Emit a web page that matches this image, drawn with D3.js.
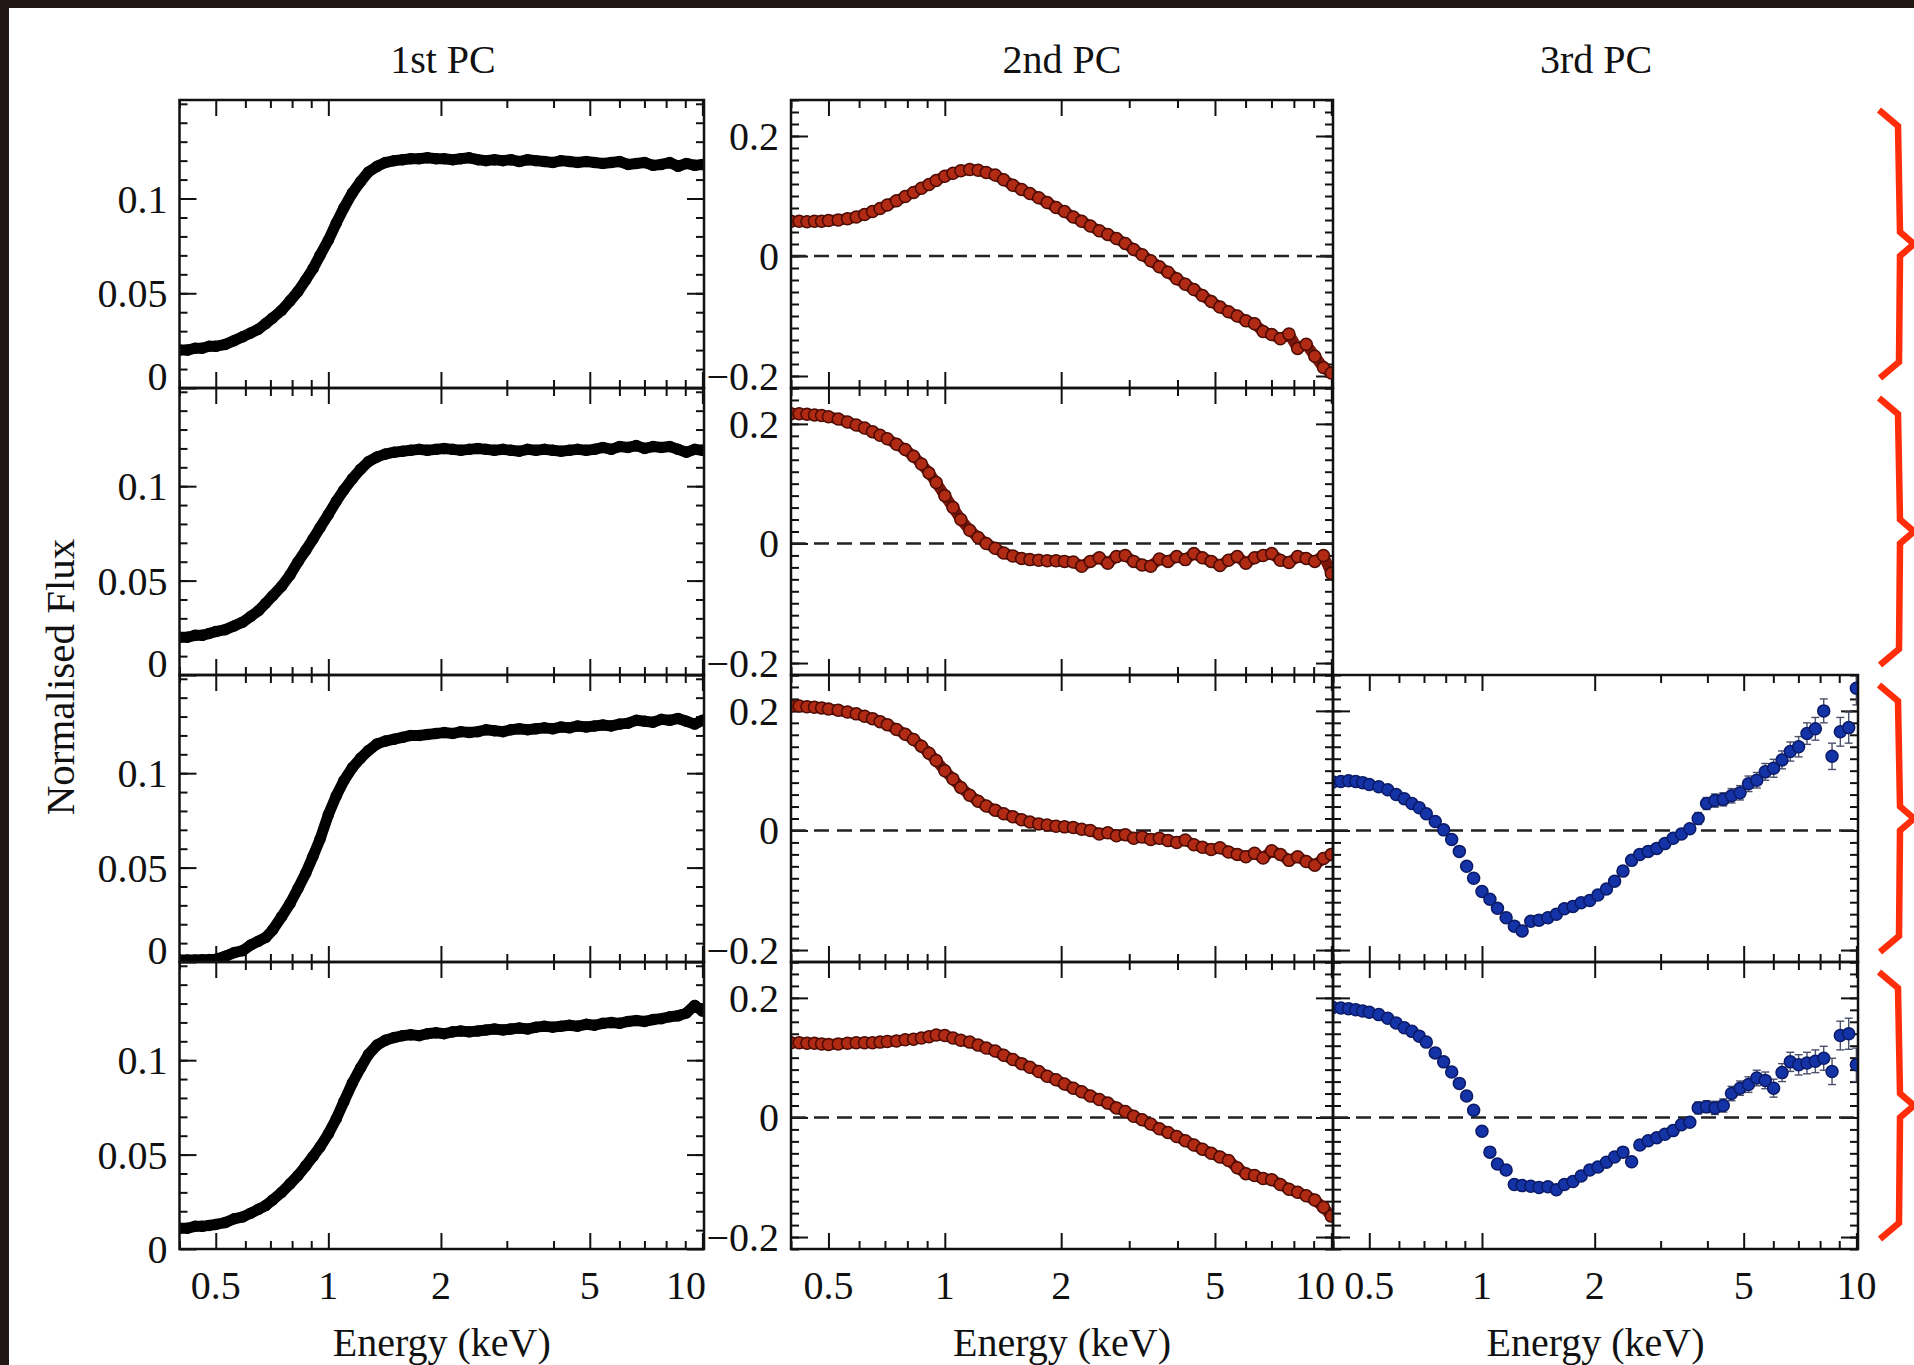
<!DOCTYPE html>
<html>
<head>
<meta charset="utf-8">
<script src="https://cdn.jsdelivr.net/npm/d3@7"></script>
<style>
  html, body { margin: 0; padding: 0; background: #211815; }
  svg { display: block; }
  text { font-family: "Liberation Serif", "Times New Roman", serif; fill: #111; }
</style>
</head>
<body>
<svg id="chart" width="1914" height="1365"></svg>
<script>
// energy grid (keV) shared by all panels
const energy = [0.40,0.42,0.44,0.46,0.48,0.50,0.53,0.56,0.59,0.62,
  0.65,0.68,0.71,0.75,0.79,0.83,0.87,0.91,0.95,1.00,
  1.05,1.10,1.16,1.22,1.28,1.35,1.42,1.50,1.58,1.66,
  1.75,1.84,1.94,2.04,2.15,2.26,2.38,2.51,2.64,2.78,
  2.93,3.08,3.24,3.41,3.59,3.78,3.98,4.19,4.41,4.64,
  4.89,5.15,5.42,5.71,6.01,6.33,6.66,7.01,7.38,7.77,
  8.18,8.61,9.06,9.54,10.0];

// 1st PC, one row per observation
const pc1Row1 = [0.020,0.020,0.021,0.021,0.022,0.022,0.023,0.025,0.027,0.029,
  0.031,0.034,0.037,0.041,0.046,0.051,0.057,0.063,0.070,0.078,
  0.087,0.095,0.103,0.109,0.114,0.117,0.119,0.120,0.1205,0.121,
  0.121,0.1215,0.121,0.121,0.1205,0.121,0.1215,0.1205,0.120,0.1205,
  0.120,0.1205,0.1195,0.1205,0.120,0.1195,0.119,0.120,0.1195,0.119,
  0.1195,0.119,0.1185,0.119,0.1195,0.118,0.1185,0.119,0.1175,0.118,
  0.119,0.117,0.1185,0.1175,0.118];
const pc1Row2 = [0.020,0.020,0.021,0.021,0.022,0.023,0.024,0.026,0.028,0.031,
  0.034,0.038,0.042,0.047,0.053,0.060,0.066,0.072,0.078,0.085,
  0.092,0.098,0.104,0.109,0.113,0.1155,0.117,0.118,0.1185,0.119,
  0.1195,0.119,0.1195,0.120,0.1195,0.119,0.1195,0.120,0.1195,0.119,
  0.1195,0.119,0.1185,0.1195,0.119,0.1195,0.119,0.1185,0.119,0.1195,
  0.119,0.1195,0.1205,0.1195,0.121,0.1205,0.1215,0.120,0.121,0.1205,
  0.121,0.1195,0.118,0.1195,0.119];
const pc1Row3 = [0.001,0.001,0.001,0.0012,0.0013,0.0015,0.003,0.005,0.006,0.009,
  0.011,0.013,0.017,0.024,0.031,0.039,0.047,0.056,0.065,0.078,
  0.088,0.096,0.103,0.108,0.112,0.1155,0.117,0.118,0.119,0.120,
  0.120,0.1205,0.121,0.1215,0.121,0.122,0.1215,0.122,0.123,0.1225,
  0.122,0.123,0.1235,0.123,0.1235,0.124,0.1235,0.1245,0.124,0.125,
  0.1245,0.125,0.1255,0.125,0.126,0.1265,0.128,0.1275,0.127,0.1285,
  0.128,0.129,0.1275,0.126,0.128];
const pc1Row4 = [0.011,0.011,0.012,0.012,0.0125,0.013,0.014,0.016,0.017,0.019,
  0.021,0.023,0.026,0.030,0.0345,0.039,0.044,0.049,0.054,0.061,
  0.069,0.078,0.088,0.096,0.103,0.108,0.1105,0.112,0.113,0.1135,
  0.113,0.114,0.1145,0.114,0.115,0.1155,0.115,0.1155,0.116,0.1165,
  0.116,0.1165,0.117,0.1165,0.1175,0.118,0.1175,0.118,0.1185,0.118,
  0.119,0.1185,0.1195,0.120,0.1195,0.1205,0.121,0.1205,0.1215,0.122,
  0.123,0.1235,0.125,0.129,0.126];

// 2nd PC
const pc2Row1 = [0.058,0.058,0.057,0.058,0.058,0.059,0.060,0.062,0.065,0.069,
  0.074,0.079,0.085,0.092,0.099,0.106,0.113,0.119,0.126,0.133,
  0.138,0.142,0.144,0.143,0.139,0.135,0.127,0.118,0.111,0.104,
  0.097,0.089,0.081,0.074,0.065,0.058,0.050,0.042,0.036,0.029,
  0.021,0.011,0.002,-0.008,-0.018,-0.027,-0.038,-0.047,-0.056,-0.066,
  -0.076,-0.085,-0.093,-0.100,-0.108,-0.113,-0.126,-0.131,-0.138,-0.130,
  -0.154,-0.147,-0.167,-0.186,-0.195];
const pc2Row2 = [0.217,0.217,0.216,0.215,0.214,0.212,0.208,0.203,0.198,0.193,
  0.187,0.181,0.175,0.166,0.157,0.146,0.133,0.118,0.102,0.080,
  0.060,0.040,0.022,0.010,0.000,-0.008,-0.016,-0.021,-0.025,-0.027,
  -0.028,-0.029,-0.029,-0.030,-0.031,-0.038,-0.030,-0.024,-0.033,-0.022,
  -0.020,-0.030,-0.036,-0.038,-0.026,-0.030,-0.022,-0.027,-0.017,-0.024,
  -0.030,-0.037,-0.028,-0.022,-0.033,-0.024,-0.020,-0.017,-0.028,-0.032,
  -0.022,-0.025,-0.030,-0.020,-0.050];
const pc2Row3 = [0.208,0.208,0.207,0.206,0.205,0.203,0.201,0.198,0.195,0.191,
  0.187,0.182,0.177,0.169,0.161,0.152,0.141,0.129,0.117,0.100,
  0.086,0.072,0.059,0.049,0.041,0.034,0.028,0.023,0.018,0.014,
  0.011,0.009,0.007,0.006,0.005,0.002,0.000,-0.006,-0.004,-0.009,
  -0.007,-0.013,-0.011,-0.015,-0.013,-0.017,-0.020,-0.016,-0.024,-0.028,
  -0.032,-0.029,-0.036,-0.040,-0.044,-0.038,-0.046,-0.034,-0.040,-0.050,
  -0.044,-0.052,-0.058,-0.047,-0.040];
const pc2Row4 = [0.125,0.125,0.124,0.124,0.123,0.122,0.123,0.124,0.125,0.125,
  0.125,0.126,0.127,0.128,0.130,0.131,0.133,0.135,0.138,0.137,
  0.133,0.129,0.126,0.121,0.116,0.111,0.104,0.097,0.090,0.084,
  0.077,0.069,0.063,0.056,0.049,0.043,0.036,0.030,0.024,0.016,
  0.010,0.002,-0.004,-0.011,-0.019,-0.025,-0.032,-0.039,-0.046,-0.053,
  -0.060,-0.066,-0.072,-0.084,-0.094,-0.097,-0.102,-0.104,-0.112,-0.120,
  -0.125,-0.131,-0.138,-0.150,-0.165];

// 3rd PC (only the last two observations)
const pc3Row3 = [0.081,0.082,0.083,0.082,0.080,0.077,0.073,0.068,0.060,0.053,
  0.045,0.038,0.028,0.015,0.001,-0.015,-0.035,-0.060,-0.080,-0.102,
  -0.115,-0.130,-0.146,-0.160,-0.168,-0.152,-0.150,-0.146,-0.140,-0.131,
  -0.127,-0.121,-0.117,-0.108,-0.098,-0.085,-0.068,-0.050,-0.040,-0.035,
  -0.030,-0.022,-0.013,-0.006,0.003,0.020,0.045,0.050,0.052,0.058,
  0.063,0.078,0.084,0.098,0.104,0.118,0.132,0.140,0.162,0.170,
  0.200,0.124,0.165,0.172,0.238];
const pc3Row4 = [0.184,0.183,0.182,0.180,0.178,0.176,0.172,0.166,0.158,0.150,
  0.144,0.136,0.126,0.108,0.093,0.076,0.057,0.036,0.012,-0.023,
  -0.058,-0.078,-0.088,-0.112,-0.114,-0.115,-0.117,-0.116,-0.121,-0.112,
  -0.107,-0.098,-0.088,-0.083,-0.075,-0.066,-0.058,-0.074,-0.046,-0.039,
  -0.034,-0.028,-0.022,-0.012,-0.008,0.016,0.018,0.016,0.020,0.040,
  0.049,0.055,0.066,0.062,0.049,0.075,0.093,0.088,0.091,0.094,
  0.099,0.077,0.137,0.140,0.088];
const pc3Err = [0.002,0.002,0.002,0.002,0.002,0.002,0.002,0.002,0.002,0.002,
  0.002,0.002,0.002,0.002,0.002,0.003,0.003,0.003,0.003,0.003,
  0.003,0.003,0.003,0.003,0.003,0.003,0.003,0.003,0.004,0.004,
  0.004,0.004,0.004,0.005,0.005,0.005,0.006,0.006,0.006,0.007,
  0.007,0.008,0.008,0.009,0.009,0.010,0.010,0.011,0.011,0.012,
  0.012,0.013,0.013,0.014,0.015,0.015,0.016,0.017,0.018,0.019,
  0.020,0.022,0.024,0.026,0.028];

const colTitles = ["1st PC", "2nd PC", "3rd PC"];
const xLabel = "Energy (keV)";
const yLabel = "Normalised Flux";
const xMajor = [0.5, 1, 2, 5, 10];
const xMinor = [0.4, 0.6, 0.7, 0.8, 0.9, 3, 4, 6, 7, 8, 9];
const xTickText = ["0.5", "1", "2", "5", "10"];
const pc1Major = [0, 0.05, 0.1];
const pc1TickText = ["0", "0.05", "0.1"];
const pc2Major = [-0.2, 0, 0.2];
const pc2TickText = ["\u22120.2", "0", "0.2"];

// layout
const W = 1914, H = 1365;
const colX = [[179.5, 704], [791, 1333], [1333, 1858]];
const rowY = [100, 388, 675, 962, 1249];
const xDomain = [0.4, 10.1];
const yDomains = [[0, 0.152], [-0.22, 0.26], [-0.22, 0.26]];
const fontPx = 40;

const styles = [
  {fill: "#000", stroke: "#000", line: "#000", lineW: 11, r: 5},
  {fill: "#b02a14", stroke: "#4a0c04", line: "#7a170a", lineW: 11, r: 6},
  {fill: "#1433a6", stroke: "#0a1a66", line: null, lineW: 0, r: 6}
];

const panels = [
  {col: 0, row: 0, values: pc1Row1}, {col: 0, row: 1, values: pc1Row2},
  {col: 0, row: 2, values: pc1Row3}, {col: 0, row: 3, values: pc1Row4},
  {col: 1, row: 0, values: pc2Row1}, {col: 1, row: 1, values: pc2Row2},
  {col: 1, row: 2, values: pc2Row3}, {col: 1, row: 3, values: pc2Row4},
  {col: 2, row: 2, values: pc3Row3, err: pc3Err},
  {col: 2, row: 3, values: pc3Row4, err: pc3Err}
];

const svg = d3.select("#chart");
svg.append("rect").attr("x", 9).attr("y", 8)
  .attr("width", W - 9).attr("height", H - 8).attr("fill", "#fff");

const defs = svg.append("defs");

function ticks(g, axis, tx, ty) {
  g.append("g").attr("transform", `translate(${tx},${ty})`)
    .call(axis)
    .call(s => s.select(".domain").remove())
    .call(s => s.selectAll("text").remove())
    .call(s => s.selectAll("line").attr("stroke", "#111").attr("stroke-width", 2));
}

panels.forEach((p, k) => {
  const [x0, x1] = colX[p.col], y0 = rowY[p.row], y1 = rowY[p.row + 1];
  const x = d3.scaleLog().domain(xDomain).range([x0, x1]);
  const y = d3.scaleLinear().domain(yDomains[p.col]).range([y1, y0]);
  const st = styles[p.col];
  const g = svg.append("g");

  defs.append("clipPath").attr("id", "clip" + k)
    .append("rect").attr("x", x0).attr("y", y0).attr("width", x1 - x0).attr("height", y1 - y0);

  // ticks on all four sides, pointing inwards
  const yMinor = p.col === 0 ? d3.range(0.01, 0.151, 0.01) : d3.range(-0.22, 0.261, 0.02);
  const yMajor = p.col === 0 ? pc1Major : pc2Major;
  ticks(g, d3.axisBottom(x).tickValues(xMajor).tickSize(-16), 0, y1);
  ticks(g, d3.axisBottom(x).tickValues(xMinor).tickSize(-8), 0, y1);
  ticks(g, d3.axisTop(x).tickValues(xMajor).tickSize(-16), 0, y0);
  ticks(g, d3.axisTop(x).tickValues(xMinor).tickSize(-8), 0, y0);
  ticks(g, d3.axisLeft(y).tickValues(yMajor).tickSize(-17), x0, 0);
  ticks(g, d3.axisLeft(y).tickValues(yMinor).tickSize(-8), x0, 0);
  ticks(g, d3.axisRight(y).tickValues(yMajor).tickSize(-17), x1, 0);
  ticks(g, d3.axisRight(y).tickValues(yMinor).tickSize(-8), x1, 0);

  const plot = g.append("g").attr("clip-path", `url(#clip${k})`);

  if (p.col > 0) {
    plot.append("line")
      .attr("x1", x0).attr("x2", x1).attr("y1", y(0)).attr("y2", y(0))
      .attr("stroke", "#222").attr("stroke-width", 2.5).attr("stroke-dasharray", "15,8");
  }

  const pts = energy.map((e, i) => ({e: e, v: p.values[i], err: p.err ? p.err[i] : 0}));

  if (p.err) {
    const eb = plot.append("g").attr("stroke", "#4a4f6a").attr("stroke-width", 1.4);
    eb.selectAll("line.bar").data(pts).join("line").attr("class", "bar")
      .attr("x1", d => x(d.e)).attr("x2", d => x(d.e))
      .attr("y1", d => y(d.v - d.err)).attr("y2", d => y(d.v + d.err));
    eb.selectAll("line.cap1").data(pts.filter(d => d.err >= 0.01)).join("line").attr("class", "cap1")
      .attr("x1", d => x(d.e) - 4).attr("x2", d => x(d.e) + 4)
      .attr("y1", d => y(d.v + d.err)).attr("y2", d => y(d.v + d.err));
    eb.selectAll("line.cap2").data(pts.filter(d => d.err >= 0.01)).join("line").attr("class", "cap2")
      .attr("x1", d => x(d.e) - 4).attr("x2", d => x(d.e) + 4)
      .attr("y1", d => y(d.v - d.err)).attr("y2", d => y(d.v - d.err));
  }
  if (st.line) {
    plot.append("path").datum(pts)
      .attr("fill", "none").attr("stroke", st.line).attr("stroke-width", st.lineW)
      .attr("stroke-linejoin", "round").attr("stroke-linecap", "round")
      .attr("d", d3.line().x(d => x(d.e)).y(d => y(d.v)));
  }
  plot.selectAll("circle").data(pts).join("circle")
    .attr("cx", d => x(d.e)).attr("cy", d => y(d.v)).attr("r", st.r)
    .attr("fill", st.fill).attr("stroke", st.stroke).attr("stroke-width", 1.5);

  g.append("rect").attr("x", x0).attr("y", y0).attr("width", x1 - x0).attr("height", y1 - y0)
    .attr("fill", "none").attr("stroke", "#111").attr("stroke-width", 2.5);

  // y tick labels (first two columns only)
  if (p.col < 2) {
    const labels = p.col === 0 ? pc1TickText : pc2TickText;
    g.selectAll("text.ylab").data(yMajor).join("text").attr("class", "ylab")
      .attr("x", x0 - 12)
      .attr("y", v => (p.col === 0 && v === 0 && p.row < 3) ? y1 - 12 : y(v))
      .attr("dy", "0.35em").attr("text-anchor", "end")
      .attr("font-size", fontPx)
      .text((v, i) => labels[i]);
  }

  // x tick labels on the bottom row
  if (p.row === 3) {
    g.selectAll("text.xlab").data(xMajor).join("text").attr("class", "xlab")
      .attr("x", v => (v === 10 && p.col < 2) ? x1 + 2 : x(v))
      .attr("y", 1299)
      .attr("text-anchor", v => (v === 10 && p.col < 2) ? "end" : "middle")
      .attr("font-size", fontPx)
      .text((v, i) => xTickText[i]);
    g.append("text").attr("x", (x0 + x1) / 2).attr("y", 1356)
      .attr("text-anchor", "middle").attr("font-size", fontPx).text(xLabel);
  }
});

// column titles
const titleX = [443, 1062, 1596];
svg.selectAll("text.title").data(colTitles).join("text").attr("class", "title")
  .attr("x", (d, i) => titleX[i]).attr("y", 73)
  .attr("text-anchor", "middle").attr("font-size", fontPx).text(d => d);

svg.append("text")
  .attr("transform", "translate(74,677) rotate(-90)")
  .attr("text-anchor", "middle").attr("font-size", 41).text(yLabel);

// red braces grouping each row
const braceLine = d3.line();
d3.range(4).forEach(r => {
  const t = rowY[r] + 10, b = rowY[r + 1] - 10, m = (t + b) / 2;
  svg.append("path")
    .attr("d", braceLine([[1879, t], [1898, t + 16], [1900, m - 12], [1914, m],
      [1900, m + 12], [1899, b - 16], [1880, b]]))
    .attr("fill", "none").attr("stroke", "#ff2d0a").attr("stroke-width", 6.5)
    .attr("stroke-linejoin", "miter");
});
</script>
</body>
</html>
